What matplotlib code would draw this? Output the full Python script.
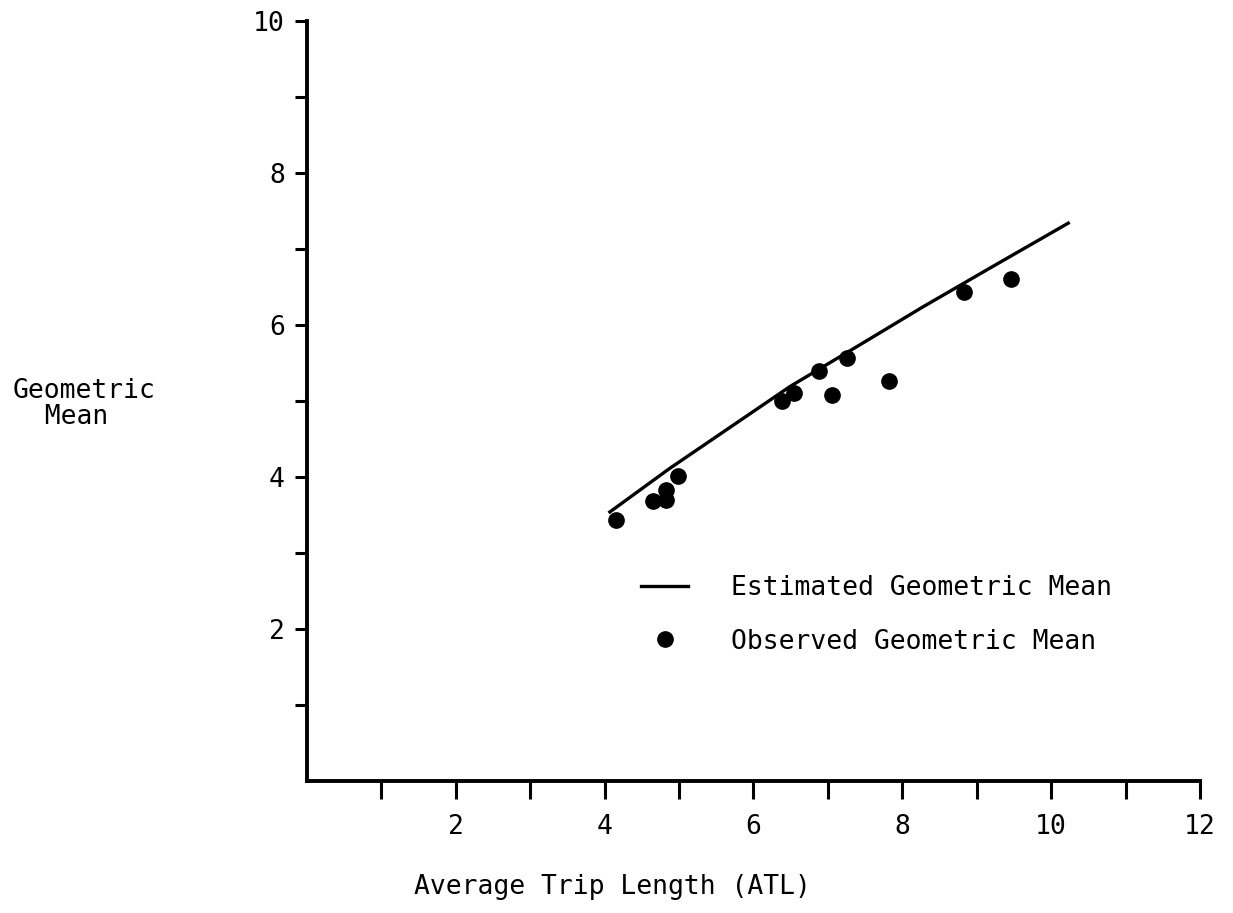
import matplotlib
matplotlib.use("Agg")
import matplotlib.pyplot as plt
from matplotlib.ticker import FixedLocator

# observed points
atl_obs = [4.15, 4.65, 4.82, 4.82, 4.98, 6.38, 6.55, 6.88, 7.06, 7.25, 7.82, 8.83, 9.46]
gm_obs = [3.43, 3.68, 3.83, 3.70, 4.01, 5.00, 5.11, 5.39, 5.08, 5.56, 5.26, 6.44, 6.61]

# estimated curve, traced at a few points
atl_est = [4.07, 4.87, 6.49, 7.38, 8.28, 9.18, 10.23]
gm_est = [3.54, 4.11, 5.19, 5.71, 6.24, 6.75, 7.34]

xticks = [2, 4, 6, 8, 10, 12]
yticks = [2, 4, 6, 8, 10]
xminor = [1, 3, 5, 7, 9, 11]
yminor = [1, 3, 5, 7, 9]

plt.rcParams['font.family'] = ['DejaVu Sans Mono']
fs = 19

fig = plt.figure(figsize=(12.33, 9.13), dpi=100)
ax = fig.add_axes([0.249, 0.1446, 0.7242, 0.8324])

ax.plot(atl_est, gm_est, color='black', linewidth=2.4, label='Estimated Geometric Mean')
ax.plot(atl_obs, gm_obs, 'o', color='black', markersize=11, label='Observed Geometric Mean')

ax.set_xlim(0, 12)
ax.set_ylim(0, 10)
ax.set_xticks(xticks)
ax.set_yticks(yticks)
ax.xaxis.set_minor_locator(FixedLocator(xminor))
ax.yaxis.set_minor_locator(FixedLocator(yminor))
ax.tick_params(axis='x', which='both', direction='out', length=13, width=2.2, labelsize=fs, pad=11)
ax.tick_params(axis='y', which='both', direction='out', length=9, width=2.2, labelsize=fs, pad=7)

for s in ['top', 'right']:
    ax.spines[s].set_visible(False)
for s in ['left', 'bottom']:
    ax.spines[s].set_linewidth(2.8)

fig.text(0.497, 0.0285, 'Average Trip Length (ATL)', fontsize=fs, ha='center', va='center')
fig.text(0.0105, 0.558, 'Geometric\n  Mean', fontsize=fs, ha='left', va='center', linespacing=1.0)

ax.legend(loc='upper left', bbox_to_anchor=(0.362, 0.285), frameon=False, fontsize=fs,
          handlelength=1.8, handletextpad=1.6, labelspacing=1.05, borderaxespad=0)

fig.savefig('out.png', dpi=100)
